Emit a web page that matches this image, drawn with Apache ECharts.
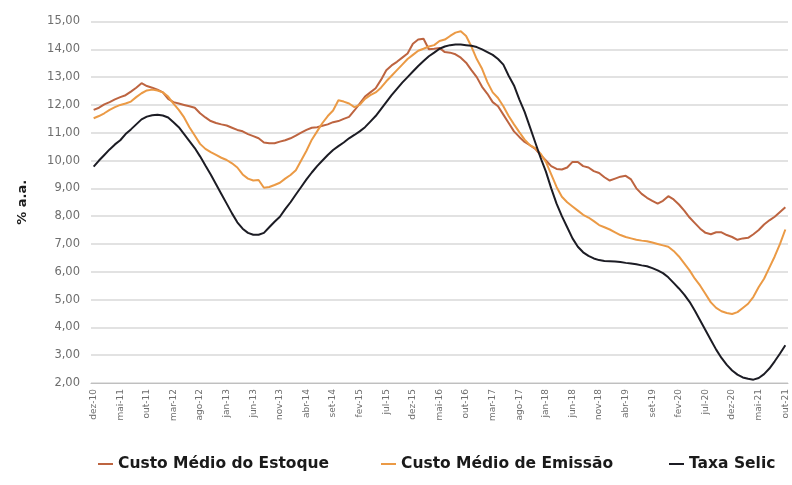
<!DOCTYPE html>
<html>
<head>
<meta charset="utf-8">
<script src="https://cdn.jsdelivr.net/npm/echarts@6/dist/echarts.min.js"></script>
<style>
  html, body { margin: 0; padding: 0; background: #ffffff; }
  #chart { width: 792px; height: 485px; }
</style>
</head>
<body>
<div id="chart"></div>
<script>
// Monthly series, dez-10 through out-21 (131 months)
const monthNames = ['jan','fev','mar','abr','mai','jun','jul','ago','set','out','nov','dez'];
const startYear = 2010, startMonth = 11; // dezembro de 2010
const monthCount = 131;
const categories = [];
for (let k = 0; k < monthCount; k++) {
  const m = (startMonth + k) % 12;
  const y = startYear + Math.floor((startMonth + k) / 12);
  categories.push(monthNames[m] + '-' + String(y % 100).padStart(2, '0'));
}

const seriesNames = ['Custo Médio do Estoque', 'Custo Médio de Emissão', 'Taxa Selic'];

// Custo Médio do Estoque (% a.a.)
const custoEstoque = [
  11.82, 11.90, 12.02, 12.10, 12.20, 12.28, 12.35, 12.48, 12.62, 12.78,
  12.68, 12.62, 12.55, 12.45, 12.22, 12.10, 12.05, 12.00, 11.95, 11.90,
  11.70, 11.55, 11.42, 11.35, 11.30, 11.26, 11.18, 11.10, 11.05, 10.95,
  10.88, 10.80, 10.65, 10.62, 10.62, 10.68, 10.73, 10.80, 10.90, 11.00,
  11.10, 11.18, 11.20, 11.25, 11.30, 11.38, 11.42, 11.50, 11.57, 11.80,
  12.05, 12.30, 12.45, 12.60, 12.90, 13.25, 13.42, 13.55, 13.70, 13.85,
  14.20, 14.35, 14.38, 14.00, 14.02, 14.05, 13.90, 13.88, 13.82, 13.70,
  13.52, 13.25, 13.00, 12.65, 12.40, 12.10, 11.95, 11.65, 11.35, 11.05,
  10.85, 10.67, 10.55, 10.42, 10.20, 10.00, 9.80, 9.70, 9.68, 9.75,
  9.95, 9.95, 9.80, 9.75, 9.62, 9.55, 9.40, 9.28, 9.35, 9.42,
  9.45, 9.32, 9.00, 8.80, 8.66, 8.55, 8.45, 8.55, 8.72, 8.60,
  8.42, 8.20, 7.95, 7.75, 7.55, 7.40, 7.35, 7.42, 7.42, 7.32,
  7.25, 7.15, 7.20, 7.22, 7.35, 7.50, 7.70, 7.85, 7.98, 8.15,
  8.32
];

// Custo Médio de Emissão (% a.a.)
const custoEmissao = [
  11.52, 11.60, 11.70, 11.82, 11.92, 12.00, 12.05, 12.12, 12.28, 12.42,
  12.52, 12.55, 12.52, 12.45, 12.30, 12.05, 11.82, 11.55, 11.20, 10.90,
  10.60, 10.42, 10.30, 10.20, 10.10, 10.02, 9.90, 9.75, 9.50, 9.35,
  9.28, 9.30, 9.02, 9.05, 9.12, 9.20, 9.35, 9.48, 9.65, 10.00,
  10.35, 10.75, 11.05, 11.35, 11.60, 11.80, 12.17, 12.12, 12.05, 11.92,
  12.00, 12.22, 12.35, 12.45, 12.62, 12.85, 13.05, 13.25, 13.45, 13.65,
  13.80, 13.95, 14.02, 14.10, 14.15, 14.30, 14.35, 14.48, 14.60, 14.65,
  14.48, 14.10, 13.65, 13.30, 12.82, 12.45, 12.25, 11.95, 11.60, 11.30,
  11.02, 10.75, 10.55, 10.45, 10.25, 9.95, 9.50, 9.05, 8.70, 8.50,
  8.35, 8.20, 8.05, 7.95, 7.82, 7.68, 7.60, 7.52, 7.42, 7.32,
  7.25, 7.20, 7.15, 7.12, 7.10, 7.05, 7.00, 6.95, 6.90, 6.75,
  6.55, 6.30, 6.05, 5.75, 5.50, 5.20, 4.90, 4.70, 4.58, 4.52,
  4.48, 4.55, 4.70, 4.85, 5.10, 5.45, 5.75, 6.15, 6.55, 7.00,
  7.52
];

// Taxa Selic (% a.a.)
const taxaSelic = [
  9.78, 10.00, 10.20, 10.40, 10.58, 10.73, 10.95, 11.12, 11.30, 11.48,
  11.58, 11.63, 11.65, 11.62, 11.55, 11.38, 11.20, 10.95, 10.70, 10.45,
  10.15, 9.82, 9.50, 9.15, 8.80, 8.45, 8.10, 7.78, 7.55, 7.40,
  7.33, 7.33, 7.40, 7.60, 7.80, 7.98, 8.25, 8.50, 8.78, 9.05,
  9.32, 9.57, 9.80, 10.00, 10.20, 10.38, 10.52, 10.65, 10.80, 10.92,
  11.05, 11.20, 11.40, 11.60, 11.85, 12.10, 12.35, 12.58, 12.80, 13.00,
  13.20, 13.40, 13.58, 13.75, 13.88, 14.02, 14.10, 14.15, 14.17, 14.17,
  14.15, 14.13, 14.08, 14.00, 13.90, 13.80, 13.65, 13.45, 13.05, 12.70,
  12.20, 11.75, 11.20, 10.65, 10.10, 9.60, 9.00, 8.45, 8.00, 7.60,
  7.20, 6.90, 6.70, 6.57, 6.48, 6.42, 6.39, 6.38, 6.37, 6.35,
  6.32, 6.30, 6.27, 6.23, 6.20, 6.13, 6.05, 5.95, 5.80, 5.60,
  5.40, 5.18, 4.92, 4.60, 4.25, 3.90, 3.55, 3.20, 2.90, 2.65,
  2.45, 2.30, 2.20, 2.15, 2.12, 2.18, 2.32, 2.52, 2.78, 3.06,
  3.36
];

const colors = ['#bd6440', '#eb9a45', '#1c1c24'];

const chart = echarts.init(document.getElementById('chart'), null, { renderer: 'canvas' });

const makeLine = (name, data, color) => ({
  name: name,
  type: 'line',
  data: data,
  symbol: 'none',
  smooth: false,
  lineStyle: { color: color, width: 2 },
  itemStyle: { color: color },
  emphasis: { disabled: true }
});

// one legend entry per component so each item sits at its own offset
const legendLeft = [93, 376, 664];
const legends = seriesNames.map((name, k) => ({
  bottom: 8,
  left: legendLeft[k],
  icon: 'rect',
  itemWidth: 15,
  itemHeight: 2,
  textStyle: {
    fontFamily: 'DejaVu Sans',
    fontWeight: 'bold',
    fontSize: 15.5,
    color: '#1a1a1a'
  },
  data: [name]
}));

chart.setOption({
  animation: false,
  backgroundColor: '#ffffff',
  grid: { left: 91, right: 4, top: 21.5, bottom: 102 },
  legend: legends,
  xAxis: {
    type: 'category',
    data: categories,
    boundaryGap: true,
    axisLine: { show: true, lineStyle: { color: '#bfbfbf', width: 1 } },
    axisTick: { show: false },
    axisLabel: {
      interval: 4,
      rotate: 90,
      margin: 6,
      fontFamily: 'DejaVu Sans',
      fontSize: 9,
      color: '#6e6e6e'
    },
    splitLine: { show: false }
  },
  yAxis: {
    type: 'value',
    min: 2,
    max: 15,
    interval: 1,
    name: '% a.a.',
    nameLocation: 'middle',
    nameRotate: 90,
    nameGap: 62,
    nameTextStyle: {
      fontFamily: 'DejaVu Sans',
      fontWeight: 'bold',
      fontSize: 13,
      color: '#1a1a1a'
    },
    axisLine: { show: false },
    axisTick: { show: false },
    axisLabel: {
      margin: 11,
      fontFamily: 'DejaVu Sans',
      fontSize: 11.5,
      color: '#6e6e6e',
      formatter: v => v.toFixed(2).replace('.', ',')
    },
    splitLine: { show: true, lineStyle: { color: '#d9d9d9', width: 1.5 } }
  },
  series: [
    makeLine(seriesNames[0], custoEstoque, colors[0]),
    makeLine(seriesNames[1], custoEmissao, colors[1]),
    makeLine(seriesNames[2], taxaSelic, colors[2])
  ]
});
</script>
</body>
</html>
